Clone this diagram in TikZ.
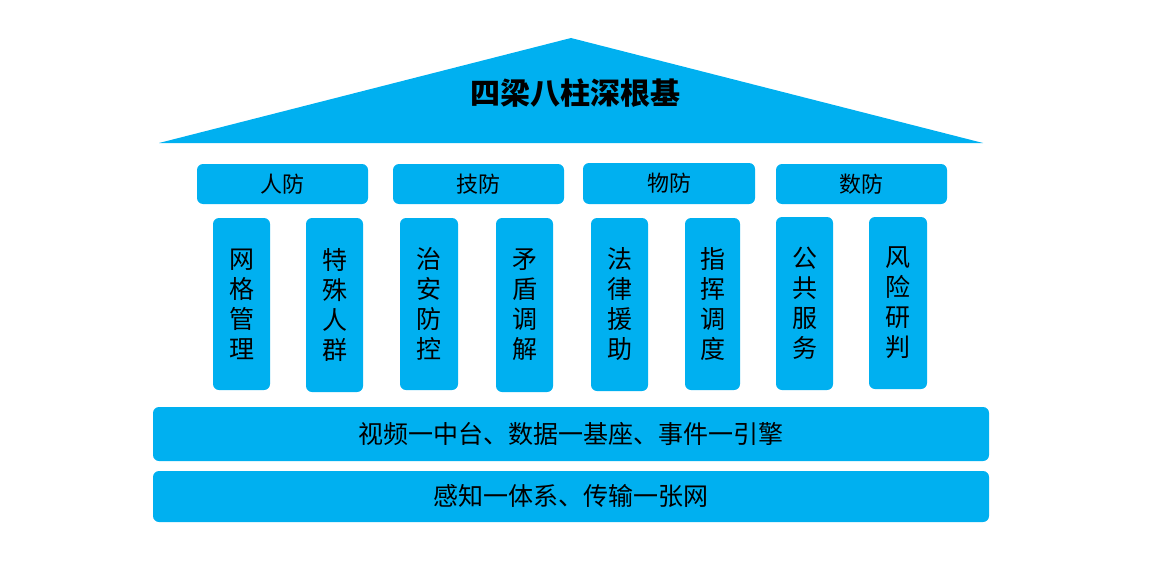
\documentclass[tikz,border=0pt]{standalone}
\usepackage{fontspec}
\setmainfont{Noto Sans CJK SC}
\definecolor{sky}{HTML}{00B0F0}
\begin{document}
\begin{tikzpicture}[x=1pt,y=-1pt,
  blk/.style={fill=sky,draw=none,rounded corners=6pt,inner sep=0pt},
  cat/.style={font=\fontsize{22}{26}\selectfont},
  pil/.style={font=\fontsize{25}{30}\selectfont,align=center},
  bar/.style={font=\fontsize{25}{30}\selectfont}]
\useasboundingbox (0,0) rectangle (1155,578);
% roof
\fill[sky] (571,38) -- (983,143) -- (159,143) -- cycle;
\node[font=\fontsize{30}{34}\selectfont\bfseries] (title) at (575,93) {四梁八柱深根基};
% categories
\foreach \n/\a/\b/\t/\s in {c1/197/368/164/人防, c2/393/564/164/技防, c3/583/755/163/物防, c4/776/947/164/数防}{
  \fill[blk] (\a,\t) rectangle (\b,204);
  \node[cat] (\n) at ({(\a+\b)/2},{(\t+204)/2}) {\s};
}
% pillars
\foreach \n/\a/\b/\t/\u/\s in {
  p1/213/270/218/390/{网\\格\\管\\理},
  p2/306/363/218/392/{特\\殊\\人\\群},
  p3/400/458/218/390/{治\\安\\防\\控},
  p4/496/553/218/392/{矛\\盾\\调\\解},
  p5/591/648/218/391/{法\\律\\援\\助},
  p6/685/740/218/390/{指\\挥\\调\\度},
  p7/776/833/217/390/{公\\共\\服\\务},
  p8/869/927/217/389/{风\\险\\研\\判}}{
  \fill[blk] (\a,\t) rectangle (\b,\u);
  \node[pil] (\n) at ({(\a+\b)/2},{(\t+\u)/2}) {\s};
}
% base bars
\fill[blk] (153,407) rectangle (989,461);
\node[bar] (b1) at (571,434) {视频一中台、数据一基座、事件一引擎};
\fill[blk] (153,471) rectangle (989,522);
\node[bar] (b2) at (571,496.5) {感知一体系、传输一张网};
\end{tikzpicture}
\end{document}
